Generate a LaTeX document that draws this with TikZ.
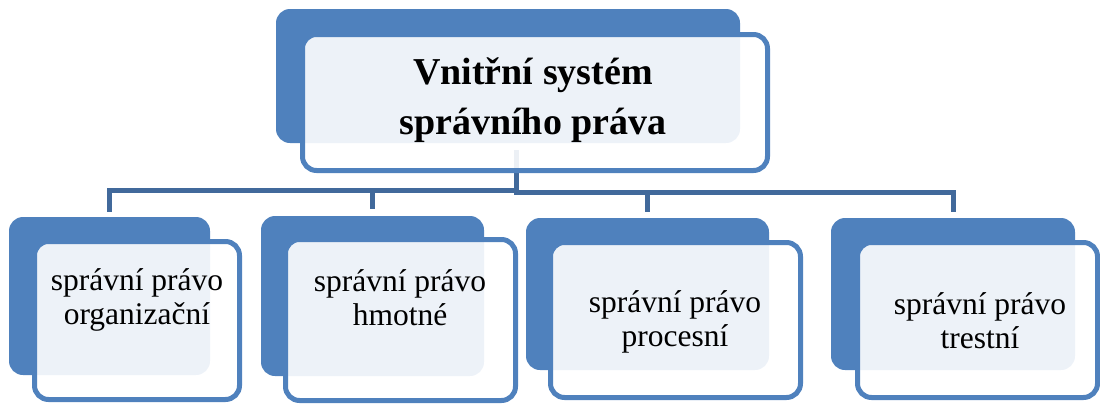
\documentclass[tikz,border=0pt]{standalone}
\usepackage{fontspec}
\setmainfont{Liberation Serif}
\usetikzlibrary{backgrounds}
\definecolor{accent}{HTML}{4F81BD}
\definecolor{connc}{HTML}{41699B}
\begin{document}
\begin{tikzpicture}[x=1pt,y=-1pt,
 backbox/.style={fill=accent, rounded corners=14pt, inner sep=0pt, draw=none},
 frontbox/.style={draw=accent, line width=5pt, fill=white, fill opacity=0.9, rounded corners=14pt, inner sep=0pt},
 conn/.style={draw=connc, line width=5pt},
 lbl/.style={align=center, font=\fontsize{31.5}{34}\selectfont, inner sep=0pt},
 toplbl/.style={align=center, font=\bfseries\fontsize{38}{50}\selectfont, inner sep=0pt}]
\useasboundingbox (0,0) rectangle (1100,405);
% top
\node[backbox, minimum width=464pt, minimum height=134pt] (b0) at (508,76) {};
\node[frontbox, minimum width=465pt, minimum height=136pt] (f0) at (535,102.5) {};
\node[toplbl] (t0) at (533,100) {Vnitřní systém\\správního práva};
% children back boxes
\node[backbox, minimum width=201pt, minimum height=158pt] (b1) at (109.5,296) {};
\node[backbox, minimum width=223pt, minimum height=160pt] (b2) at (372.5,296) {};
\node[backbox, minimum width=243pt, minimum height=152pt] (b3) at (647.5,294) {};
\node[backbox, minimum width=244pt, minimum height=152pt] (b4) at (953,294) {};
% front boxes
\node[frontbox, minimum width=205pt, minimum height=158pt] (f1) at (137,320.5) {};
\node[frontbox, minimum width=230pt, minimum height=161pt] (f2) at (400.5,320) {};
\node[frontbox, minimum width=250pt, minimum height=155pt] (f3) at (675.5,320) {};
\node[frontbox, minimum width=240pt, minimum height=155pt] (f4) at (977.5,320) {};
% labels
\node[lbl] (t1) at (137,300) {správní právo\\organizační};
\node[lbl] (t2) at (400,298) {správní právo\\hmotné};
\node[lbl] (t3) at (675,322) {správní právo\\procesní};
\node[lbl] (t4) at (980,321) {správní právo\\trestní};
% connectors
\coordinate (hub) at (516,150);
\coordinate (jl) at (516,190);
\coordinate (jr) at (516,192);
\begin{pgfonlayer}{background}
\draw[conn, shorten >=5pt] (hub) -- (jl) -| (b1.north);
\draw[conn, shorten >=7pt] (jl) -| (b2.north);
\draw[conn, shorten >=6pt] (hub) -- (jr) -| (b3.north);
\draw[conn, shorten >=6pt] (jr) -| (b4.north);
\end{pgfonlayer}
\end{tikzpicture}
\end{document}
